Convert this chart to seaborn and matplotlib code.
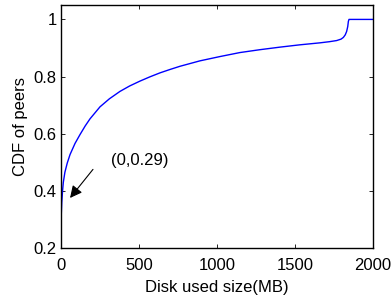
import pandas as pd
import matplotlib.pyplot as plt
import seaborn as sns

# CDF of disk used size
disk_mb = [0, 2, 5, 10, 15, 25, 40, 58, 90, 122, 155, 186, 250, 310, 378, 440,
           506, 570, 635, 700, 763, 891, 1019, 1147, 1275, 1404, 1530, 1660,
           1720, 1767, 1795, 1810, 1822, 1831, 1838, 1842, 1846, 1900, 2000]
cdf = [0.29, 0.32, 0.36, 0.40, 0.43, 0.465, 0.497, 0.527, 0.566, 0.597, 0.627,
       0.652, 0.694, 0.722, 0.748, 0.767, 0.784, 0.799, 0.813, 0.825, 0.836,
       0.855, 0.870, 0.884, 0.894, 0.903, 0.911, 0.918, 0.922, 0.926, 0.931,
       0.937, 0.946, 0.958, 0.975, 0.993, 1.0, 1.0, 1.0]

df = pd.DataFrame({'disk': disk_mb, 'cdf': cdf})

sns.set_style("ticks")
plt.rcParams['font.family'] = ['Liberation Sans', 'DejaVu Sans']
plt.rcParams.update({
    'xtick.direction': 'in', 'ytick.direction': 'in',
    'text.color': 'black', 'axes.labelcolor': 'black',
    'xtick.color': 'black', 'ytick.color': 'black',
    'axes.edgecolor': 'black',
})

fig = plt.figure(figsize=(3.91, 3.02), dpi=100)
ax = fig.add_axes([0.156, 0.179, 0.798, 0.804])
sns.lineplot(data=df, x='disk', y='cdf', ax=ax, color='#0000ff', linewidth=1)

ax.set_xlim(0, 2000)
ax.set_ylim(0.2, 1.05)
ax.set_xticks([0, 500, 1000, 1500, 2000])
ax.set_yticks([0.2, 0.4, 0.6, 0.8, 1.0])
ax.set_yticklabels(['0.2', '0.4', '0.6', '0.8', '1'])
ax.tick_params(top=True, right=True, labelsize=12, length=3, width=0.6, pad=3)
ax.tick_params(axis='x', pad=7)
for s in ax.spines.values():
    s.set_visible(True)
    s.set_linewidth(1)
ax.set_xlabel('Disk used size(MB)', fontsize=12, labelpad=5)
ax.set_ylabel('CDF of peers', fontsize=12, labelpad=4)

# arrow pointing at the starting point
ax.annotate('', xy=(58, 0.375), xytext=(205, 0.475),
            arrowprops=dict(arrowstyle='-|>', color='black', lw=0.8,
                            mutation_scale=18, shrinkA=0, shrinkB=0))
ax.text(318, 0.505, '(0,0.29)', fontsize=12, ha='left', va='center')

fig.savefig('out.png', dpi=100)
